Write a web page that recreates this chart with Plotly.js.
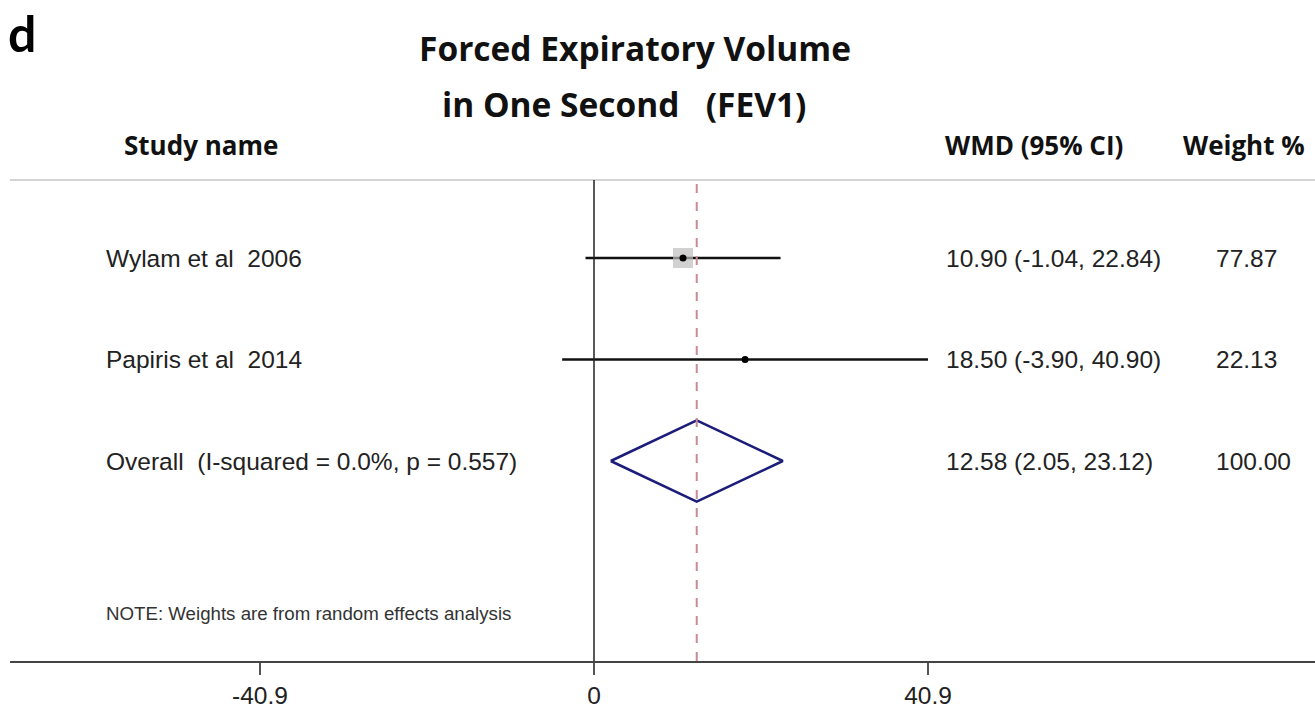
<!DOCTYPE html>
<html>
<head>
<meta charset="utf-8">
<script src="https://cdn.plot.ly/plotly-3.0.1.min.js"></script>
<style>
  html, body { margin: 0; padding: 0; background: #ffffff; }
  #chart { width: 1315px; height: 709px; }
</style>
</head>
<body>
<div id="chart"></div>
<script>
// Meta-analysis of FEV1: weighted mean differences with 95% CIs
const studies   = ["Wylam et al  2006", "Papiris et al  2014"];
const wmd       = [10.90, 18.50];
const ciLow     = [-1.04, -3.90];
const ciHigh    = [22.84, 40.90];
const weights   = [77.87, 22.13];

const overallLabel = "Overall  (I-squared = 0.0%, p = 0.557)";
const overallWmd   = 12.58;
const overallLow   = 2.05;
const overallHigh  = 23.12;
const overallWeight = 100.00;

const tickVals  = [-40.9, 0, 40.9];
const tickText  = ["-40.9", "0", "40.9"];

// ---- layout geometry (pixels of the 1315x709 page) ----
const W = 1315, H = 709;
const plotL = 10, plotR = 1315, plotT = 180, plotB = 661;
const pxPerUnit = 8.1663;
const zeroPx = 594;
const xRange = [(plotL - zeroPx) / pxPerUnit, (plotR - zeroPx) / pxPerUnit];
// rows are spaced evenly; row 0 sits 78 px below the top rule
const rowPx = 101.5;
const yTop = -(258 - plotT) / rowPx;
const yBottom = (plotB - 258) / rowPx;
const diamondHalf = 0.40;

const px2x = px => (px - plotL) / (plotR - plotL);
const py2y = py => (plotB - py) / (plotB - plotT);

const sans = "Liberation Sans, Arial, sans-serif";
const bold = "'Open Sans', Lato, sans-serif";

const rows = studies.map((_, i) => i);
const overallRow = studies.length;

const traces = [];

// confidence interval whiskers
studies.forEach((s, i) => {
  traces.push({
    type: "scatter", mode: "lines",
    x: [ciLow[i], ciHigh[i]], y: [rows[i], rows[i]],
    line: { color: "#111111", width: 2.5 },
    hoverinfo: "skip", showlegend: false
  });
});

// weight boxes (side grows with study weight)
traces.push({
  type: "scatter", mode: "markers",
  x: wmd, y: rows,
  marker: {
    symbol: "square",
    size: weights.map(w => 20 * w / weights[0]),
    color: "#bdbdbd", line: { width: 0 }
  },
  hoverinfo: "skip", showlegend: false
});

// point estimates
traces.push({
  type: "scatter", mode: "markers",
  x: wmd, y: rows,
  marker: { symbol: "circle", size: 7, color: "#000000" },
  text: studies, hoverinfo: "text+x", showlegend: false
});

// pooled estimate diamond
traces.push({
  type: "scatter", mode: "lines",
  x: [overallLow, overallWmd, overallHigh, overallWmd, overallLow],
  y: [overallRow, overallRow - diamondHalf, overallRow, overallRow + diamondHalf, overallRow],
  line: { color: "#1c1c7a", width: 2.5 },
  hoverinfo: "skip", showlegend: false
});

const annotations = [];

function addText(text, x, y, opts) {
  annotations.push(Object.assign({
    text: text, x: x, y: y,
    xref: "paper", yref: "paper",
    showarrow: false, xanchor: "left", yanchor: "middle"
  }, opts));
}

// panel letter and title
addText("<b>d</b>", px2x(6), py2y(33), { font: { family: "Lato, sans-serif", size: 50, color: "#000" } });
addText("<b>Forced Expiratory Volume</b>", px2x(635), py2y(48),
  { xanchor: "center", font: { family: bold, size: 33.5, color: "#111" } });
addText("<b>in One Second   (FEV1)</b>", px2x(624), py2y(104),
  { xanchor: "center", font: { family: bold, size: 33.5, color: "#111" } });

// column headers
addText("<b>Study name</b>", px2x(201), py2y(145),
  { xanchor: "center", font: { family: bold, size: 26, color: "#111" } });
addText("<b>WMD (95% CI)</b>", px2x(943), py2y(145),
  { font: { family: bold, size: 26, color: "#111" } });
addText("<b>Weight %</b>", px2x(1181), py2y(145),
  { font: { family: bold, size: 26, color: "#111" } });

// row text columns
const rowFont = { family: sans, size: 24.5, color: "#222" };
const fmt = v => v.toFixed(2);
studies.forEach((s, i) => {
  addText(s, px2x(104), rows[i], { yref: "y", font: rowFont });
  addText(fmt(wmd[i]) + " (" + fmt(ciLow[i]) + ", " + fmt(ciHigh[i]) + ")", px2x(944), rows[i], { yref: "y", font: rowFont });
  addText(fmt(weights[i]), px2x(1214), rows[i], { yref: "y", font: rowFont });
});
addText(overallLabel, px2x(104), overallRow, { yref: "y", font: rowFont });
addText(fmt(overallWmd) + " (" + fmt(overallLow) + ", " + fmt(overallHigh) + ")", px2x(944), overallRow, { yref: "y", font: rowFont });
addText(fmt(overallWeight), px2x(1214), overallRow, { yref: "y", font: rowFont });

addText("NOTE: Weights are from random effects analysis", px2x(104), overallRow + 1.5,
  { yref: "y", font: { family: sans, size: 18.7, color: "#333" } });

const shapes = [
  // header rule
  { type: "line", xref: "paper", yref: "paper", x0: 0, x1: 1, y0: 1, y1: 1,
    line: { color: "#d4d4d4", width: 2 } },
  // line of no effect
  { type: "line", xref: "x", yref: "paper", x0: 0, x1: 0, y0: 0, y1: 1,
    line: { color: "#222222", width: 1.5 } },
  // pooled estimate reference
  { type: "line", xref: "x", yref: "paper", x0: overallWmd, x1: overallWmd, y0: 0, y1: 1,
    line: { color: "#c98a94", width: 2, dash: "dash" } }
];

const layout = {
  width: W, height: H,
  margin: { l: plotL, r: W - plotR, t: plotT, b: H - plotB, pad: 0 },
  paper_bgcolor: "#ffffff", plot_bgcolor: "#ffffff",
  showlegend: false,
  xaxis: {
    range: xRange, zeroline: false, showgrid: false,
    showline: true, linecolor: "#444444", linewidth: 2,
    tickmode: "array", tickvals: tickVals, ticktext: tickText,
    ticks: "outside", ticklen: 12, tickwidth: 1.5, tickcolor: "#555555",
    tickfont: { family: sans, size: 24.5, color: "#222" },
    fixedrange: true
  },
  yaxis: {
    range: [yBottom, yTop], visible: false, showgrid: false, zeroline: false,
    fixedrange: true
  },
  shapes: shapes,
  annotations: annotations
};

Plotly.newPlot("chart", traces, layout, { displayModeBar: false, staticPlot: true });
</script>
</body>
</html>
